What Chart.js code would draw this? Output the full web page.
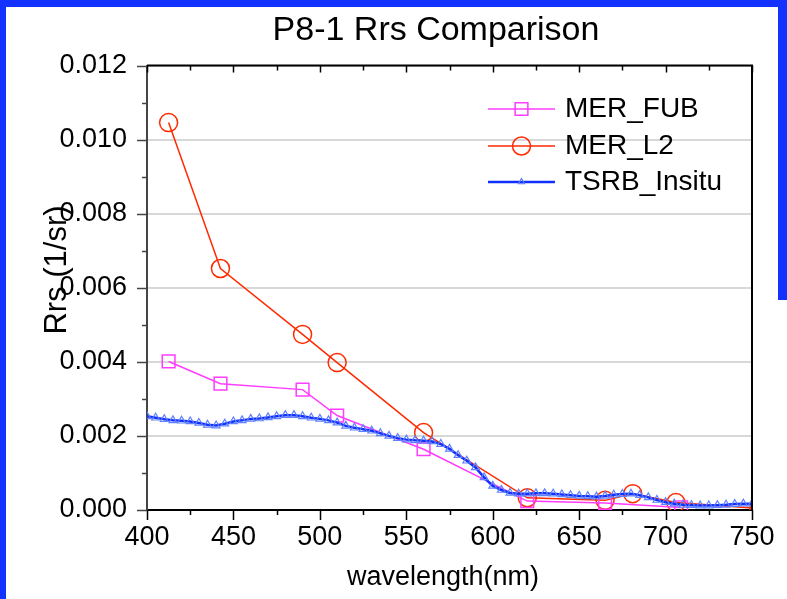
<!DOCTYPE html>
<html>
<head>
<meta charset="utf-8">
<script src="https://cdn.jsdelivr.net/npm/chart.js@4.4.1/dist/chart.umd.min.js"></script>
<style>
  body { margin: 0; background: #ffffff; }
  #wrap { position: relative; width: 787px; height: 599px; }
  .frame { position: absolute; background: #1432ff; }
</style>
</head>
<body>
<div id="wrap">
  <canvas id="chartjs-1" width="787" height="599"></canvas>
  <div class="frame" style="left:0;top:0;width:787px;height:7px"></div>
  <div class="frame" style="left:0;top:0;width:6px;height:599px"></div>
  <div class="frame" style="left:778px;top:0;width:9px;height:300px"></div>
</div>
<script>
// values (Rrs in 1/sr)
var fub_wl = [412.5, 442.5, 490, 510, 560, 620, 665, 709];
var fub_rrs = [0.00401, 0.00341, 0.00325, 0.00255, 0.00164, 0.00024, 0.00019, 0.00007];

var l2_wl = [412.5, 442.5, 490, 510, 560, 620, 665, 681, 706, 754];
var l2_rrs = [0.01046, 0.00652, 0.00474, 0.00398, 0.00209, 0.00033, 0.00026, 0.00044, 0.00020, 0.00004];

var insitu_wl = [400, 405, 410, 415, 420, 425, 430, 435, 440, 445, 450, 455, 460, 465, 470, 475, 480, 485, 490, 495,
    500, 505, 510, 515, 520, 525, 530, 535, 540, 545, 550, 555, 560, 565, 570, 575, 580, 585, 590, 595,
    600, 605, 610, 615, 620, 625, 630, 635, 640, 645, 650, 655, 660, 665, 670, 675, 680, 685, 690, 695,
    700, 705, 710, 715, 720, 725, 730, 735, 740, 745, 750];
var insitu_rrs = [2.53, 2.49, 2.45, 2.42, 2.41, 2.39, 2.35, 2.30, 2.28, 2.33, 2.39, 2.42, 2.46, 2.47, 2.50, 2.53, 2.56, 2.56, 2.53, 2.49,
    2.46, 2.42, 2.36, 2.27, 2.22, 2.18, 2.14, 2.07, 2.00, 1.94, 1.90, 1.88, 1.87, 1.85, 1.78, 1.65, 1.48, 1.33, 1.15, 0.88,
    0.65, 0.54, 0.46, 0.44, 0.44, 0.45, 0.45, 0.44, 0.42, 0.40, 0.38, 0.37, 0.36, 0.38, 0.41, 0.43, 0.44, 0.40, 0.34, 0.27,
    0.21, 0.17, 0.14, 0.13, 0.12, 0.12, 0.13, 0.14, 0.16, 0.17, 0.17]; // x 1e-3

var series_names = ["MER_FUB", "MER_L2", "TSRB_Insitu"];
var x_ticks = [400, 450, 500, 550, 600, 650, 700, 750];
var y_ticks = [0.000, 0.002, 0.004, 0.006, 0.008, 0.010, 0.012];

var FONT = "'Liberation Sans', Arial, sans-serif";

function pts(xs, ys, k) {
    var out = [];
    for (var i = 0; i < xs.length; i++) out.push({ x: xs[i], y: ys[i] * k });
    return out;
}

// titles, extra ticks, frame and in-plot legend
var decor = {
    id: 'decor',
    afterDraw: function (chart) {
        var ctx = chart.ctx;
        var a = chart.chartArea;
        var xs = chart.scales.x, ys = chart.scales.y;
        ctx.save();

        // minor / major ticks
        ctx.strokeStyle = '#000';
        ctx.lineWidth = 1.5;
        for (var v = 400; v <= 750; v += 25) {
            var px = Math.round(xs.getPixelForValue(v)) + 0.5;
            var major = (v % 50 === 0);
            ctx.beginPath();
            ctx.moveTo(px, a.bottom);
            ctx.lineTo(px, a.bottom + (major ? 10 : 5));
            ctx.moveTo(px, a.top);
            ctx.lineTo(px, a.top + (major ? 7 : 5));
            ctx.stroke();
        }
        ctx.strokeStyle = '#444';
        for (var k = 0; k <= 12; k++) {
            var py = Math.round(ys.getPixelForValue(k * 0.001)) + 0.5;
            ctx.beginPath();
            ctx.moveTo(a.left, py);
            ctx.lineTo(a.left - (k % 2 === 0 ? 10 : 5), py);
            ctx.stroke();
        }

        // top and right frame
        ctx.strokeStyle = '#000';
        ctx.lineWidth = 2;
        ctx.beginPath();
        ctx.moveTo(a.left, a.top);
        ctx.lineTo(a.right, a.top);
        ctx.lineTo(a.right, a.bottom);
        ctx.stroke();

        // texts
        ctx.fillStyle = '#000';
        ctx.textAlign = 'center';
        ctx.textBaseline = 'middle';
        ctx.font = '34px ' + FONT;
        ctx.fillText('P8-1 Rrs Comparison', 436, 31);
        ctx.font = '27px ' + FONT;
        ctx.fillText('wavelength(nm)', 443, 578);
        ctx.save();
        ctx.translate(57, 270);
        ctx.rotate(-Math.PI / 2);
        ctx.font = '31px ' + FONT;
        ctx.fillText('Rrs (1/sr)', 0, 0);
        ctx.restore();

        // legend
        var rows = [109, 146, 182];
        chart.data.datasets.forEach(function (ds, i) {
            var y = rows[i];
            ctx.strokeStyle = ds.borderColor;
            ctx.lineWidth = ds.borderWidth;
            ctx.beginPath();
            ctx.moveTo(488, y);
            ctx.lineTo(555, y);
            ctx.stroke();
            ctx.strokeStyle = ds.pointBorderColor;
            ctx.fillStyle = 'rgba(0,0,0,0)';
            ctx.lineWidth = ds.pointBorderWidth;
            Chart.helpers.drawPoint(ctx, {
                pointStyle: ds.pointStyle,
                radius: i === 2 ? 3.5 : ds.pointRadius,
                rotation: 0,
                borderWidth: ds.pointBorderWidth
            }, 521.5, y);
            ctx.fillStyle = '#000';
            ctx.textAlign = 'left';
            ctx.font = '28px ' + FONT;
            ctx.fillText(ds.label, 565, y);
        });
        ctx.restore();
    }
};

new Chart(document.getElementById("chartjs-1"), {
    type: 'line',
    data: {
        datasets: [{
            label: series_names[0],
            data: pts(fub_wl, fub_rrs, 1),
            borderColor: '#ff3cff',
            borderWidth: 1.5,
            pointStyle: 'rect',
            pointRadius: 9,
            pointBorderWidth: 1.5,
            pointBorderColor: '#ff3cff',
            pointBackgroundColor: 'rgba(0,0,0,0)',
            order: 2
        }, {
            label: series_names[1],
            data: pts(l2_wl, l2_rrs, 1),
            borderColor: '#ff2a00',
            borderWidth: 1.5,
            pointStyle: 'circle',
            pointRadius: 9,
            pointBorderWidth: 1.5,
            pointBorderColor: '#ff2a00',
            pointBackgroundColor: 'rgba(0,0,0,0)',
            order: 3
        }, {
            label: series_names[2],
            data: pts(insitu_wl, insitu_rrs, 0.001),
            borderColor: '#1030ff',
            borderWidth: 2.5,
            pointStyle: 'triangle',
            pointRadius: 4.5,
            pointBorderWidth: 1.2,
            pointBorderColor: '#5f80ff',
            pointBackgroundColor: 'rgba(0,0,0,0)',
            order: 1
        }]
    },
    options: {
        responsive: false,
        animation: false,
        events: [],
        layout: { padding: { top: 65.5, right: 35, left: 0, bottom: 0 } },
        plugins: { legend: { display: false }, tooltip: { enabled: false }, title: { display: false } },
        scales: {
            x: {
                type: 'linear',
                min: 400, max: 750,
                afterBuildTicks: function (s) { s.ticks = x_ticks.map(function (v) { return { value: v }; }); },
                afterFit: function (s) { s.height = 89; },
                grid: { display: false, drawTicks: false },
                border: { display: true, color: '#000', width: 2 },
                ticks: { color: '#000', padding: 11, maxRotation: 0, font: { family: FONT, size: 27 } }
            },
            y: {
                min: 0, max: 0.012,
                afterBuildTicks: function (s) { s.ticks = y_ticks.map(function (v) { return { value: v }; }); },
                afterFit: function (s) { s.width = 147; },
                grid: { color: '#d8d8d8', lineWidth: 2, drawTicks: false },
                border: { display: true, color: '#444', width: 2 },
                ticks: {
                    color: '#000', padding: 20, font: { family: FONT, size: 27 },
                    callback: function (v) { return v.toFixed(3); }
                }
            }
        }
    },
    plugins: [decor]
});
</script>
</body>
</html>
